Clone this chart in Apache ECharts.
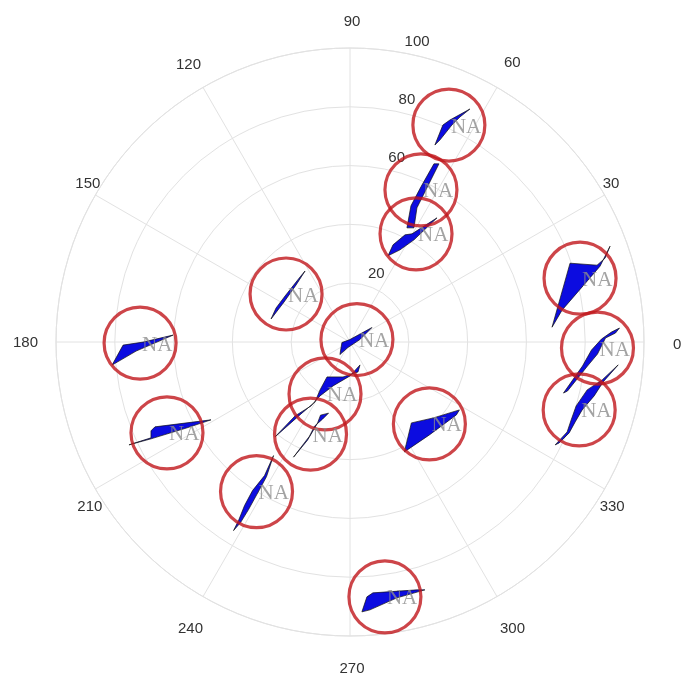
<!DOCTYPE html>
<html>
<head>
<meta charset="utf-8">
<script src="https://cdn.jsdelivr.net/npm/echarts@6.0.0/dist/echarts.min.js"></script>
<style>
  html, body { margin: 0; padding: 0; background: #fff; }
  #chart { width: 692px; height: 675px; }
</style>
</head>
<body>
<div id="chart"></div>
<script>
// Point positions: radius (0-100) and angle (degrees, counter-clockwise from east)
const radii  = [81.1, 57.1, 43.1, 81.2, 84.2, 81.3, 2.5, 19.6, 34.1, 69.5, 71.4, 60.0, 87.5, 38.8, 27.2];
const angles = [65.5, 65.0, 58.6, 15.5, 358.6, 343.5, 19.6, 244.3, 246.8, 206.4, 180.3, 238.0, 277.8, 314.1, 143.1];
const pointLabels = radii.map(() => 'NA');

// Glyph outlines, in px relative to each point (x right, y down)
const glyphShapes = [
  [[-14, 20], [-6, 0], [1, -5], [21, -16], [11, -8], [3, 0], [-9, 15]],
  [[13, -26], [18, -26], [5, 0], [-4, 18], [-7, 38], [-14, 38], [-10, 16], [0, -3]],
  [[-28, 22], [-23, 11], [-11, 1], [-4, 0], [21, -16], [-2, 6], [-16, 16]],
  [[-28, 49], [-10, -15], [17, -13], [25, -20], [30, -32], [27, -26], [20, -12], [-18, 32]],
  [[-34, 45], [-15, 18], [-6, 2], [4, -9], [14, -16], [22, -20], [18, -15], [8, -10], [0, 6], [-10, 18], [-30, 43]],
  [[39, -45], [23, -30], [8, -20], [-3, -4], [-8, 10], [-12, 22], [-24, 35], [-20, 33], [-10, 23], [-4, 12], [3, 0], [15, -14], [24, -28]],
  [[-17, 15], [-15, 3], [-7, 0], [15, -12], [3, 0], [-9, 8]],
  [[35, -29], [33, -22], [18, -17], [2, -17], [-5, -4], [-10, 8], [-24, 20], [-50, 43], [-30, 22], [-14, 12], [-5, 2], [8, -8], [25, -18]],
  [[18, -21], [10, -19], [7, -11], [-3, 6], [-17, 23], [-1, 2], [4, -8], [12, -15]],
  [[-38, 12], [-16, 5], [-16, -2], [-12, -6], [44, -13], [20, -5], [-16, 6]],
  [[-28, 22], [-17, 2], [3, -1], [33, -8], [-4, 8]],
  [[17, -36], [10, -15], [3, -2], [-8, 18], [-16, 31], [-23, 39], [-18, 29], [-12, 14], [-4, -1], [8, -16]],
  [[-23, 15], [-18, 0], [-12, -4], [32, -7], [40, -7], [12, 1], [-15, 13]],
  [[-25, 28], [-18, -1], [4, -6], [30, -14], [27, -9], [0, 11]],
  [[19, -23], [10, -9], [-2, 8], [-15, 25], [-10, 14], [-1, 2], [14, -17]]
];

const angleTicks = [0, 30, 60, 90, 120, 150, 180, 210, 240, 270, 300, 330];
const radiusTicks = [20, 60, 80, 100];

const gridColor = '#e2e2e2';
const labelColor = '#333';

// per-label padding [top, right, bottom, left] to nudge angle labels
const anglePad = {
  0: [6, 0, 0, 37], 30: [0, 0, 8, 5], 60: [0, 0, 24, 11], 90: [0, 0, 27, 4],
  120: [0, 6, 22, 0], 150: [0, 2, 8, 0], 180: [2, 26, 0, 0], 210: [14, 0, 0, 0],
  240: [32, 4, 0, 0], 270: [33, 0, 0, 4], 300: [32, 0, 0, 7], 330: [14, 0, 0, 2]
};
const angleRich = {};
angleTicks.forEach(v => {
  angleRich['a' + v] = { padding: anglePad[v], fontSize: 15, fontFamily: 'Liberation Sans', color: labelColor };
});

const chart = echarts.init(document.getElementById('chart'));

const points = radii.map((r, i) => [r, angles[i], i]);

const option = {
  backgroundColor: '#fff',
  animation: false,
  polar: [
    { center: [350, 342], radius: 294 },
    { center: [350, 342], radius: 307 }
  ],
  angleAxis: [
    {
      polarIndex: 0,
      type: 'value',
      min: 0,
      max: 360,
      interval: 30,
      startAngle: 0,
      clockwise: false,
      axisLine: { lineStyle: { color: gridColor, width: 1 } },
      axisTick: { show: false },
      splitLine: { show: true, lineStyle: { color: gridColor, width: 1 } },
      axisLabel: {
        margin: -8,
        fontSize: 15,
        fontFamily: 'Liberation Sans',
        color: labelColor,
        rich: angleRich,
        formatter: v => (v === 360 ? '' : '{a' + v + '|' + v + '}')
      }
    },
    {
      polarIndex: 1,
      type: 'value',
      min: 0,
      max: 360,
      startAngle: 80,
      clockwise: false,
      show: false
    }
  ],
  radiusAxis: [
    {
      polarIndex: 0,
      type: 'value',
      min: 0,
      max: 100,
      interval: 20,
      axisLine: { show: false },
      axisTick: { show: false },
      axisLabel: { show: false },
      splitLine: { show: true, lineStyle: { color: gridColor, width: 1 } }
    },
    {
      polarIndex: 1,
      type: 'value',
      min: -4.5,
      max: 100,
      axisLine: { show: false },
      axisTick: { show: false },
      splitLine: { show: false },
      axisLabel: {
        customValues: radiusTicks,
        margin: -14,
        align: 'center',
        verticalAlign: 'middle',
        fontSize: 15,
        fontFamily: 'Liberation Sans',
        color: labelColor
      }
    }
  ],
  series: [
    {
      type: 'custom',
      coordinateSystem: 'polar',
      polarIndex: 0,
      silent: true,
      z: 2,
      data: points,
      renderItem: (params, api) => {
        const c = api.coord([api.value(0), api.value(1)]);
        const shape = glyphShapes[params.dataIndex];
        return {
          type: 'polygon',
          shape: { points: shape.map(p => [c[0] + p[0], c[1] + p[1]]) },
          style: { fill: '#0c0ce0', stroke: '#111', lineWidth: 0.7 }
        };
      }
    },
    {
      type: 'scatter',
      coordinateSystem: 'polar',
      polarIndex: 0,
      silent: true,
      z: 3,
      symbol: 'circle',
      symbolSize: 72,
      data: points,
      itemStyle: { color: 'rgba(0,0,0,0)', borderColor: '#c0161c', borderWidth: 3.2 },
      label: {
        show: true,
        formatter: p => pointLabels[p.dataIndex],
        position: ['50%', '50%'],
        align: 'left',
        verticalAlign: 'middle',
        offset: [2, 2],
        fontFamily: 'Liberation Serif',
        fontSize: 21,
        color: '#8c8c8c'
      }
    }
  ]
};

chart.setOption(option);
</script>
</body>
</html>
